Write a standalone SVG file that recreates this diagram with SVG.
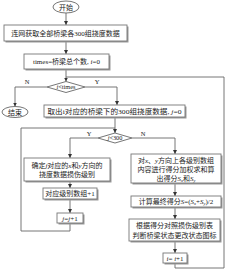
<svg xmlns="http://www.w3.org/2000/svg" width="226" height="270" viewBox="0 0 226 270">
<defs>
<marker id="ah" viewBox="0 0 6 6" refX="6" refY="3" markerWidth="4" markerHeight="4" orient="auto" markerUnits="userSpaceOnUse">
<path d="M0,0 L6,3 L0,6 z" fill="#333"/>
</marker>
<style>
.box{fill:#fff;stroke:#777;stroke-width:0.9}
.sh{fill:#9a9a9a}
.ln{fill:none;stroke:#666;stroke-width:0.9}
.ar{fill:none;stroke:#666;stroke-width:0.9;marker-end:url(#ah)}
text{font-family:"Liberation Serif","Noto Sans CJK SC",serif;font-size:7px;fill:#222;text-anchor:middle}
.it{font-style:italic}
.lb{font-size:6.5px}
</style>
</defs>
<rect width="226" height="270" fill="#fff"/>
<g id="connectors">
<path class="ar" d="M66,13 V25"/>
<path class="ar" d="M66,41 V54"/>
<path class="ar" d="M66,70 V81.5"/>
<path class="ar" d="M47,87 H15 V106.5"/>
<path class="ar" d="M85,87 H117 V105"/>
<path class="ar" d="M115,118 V133"/>
<path class="ar" d="M98,138 H70 V158"/>
<path class="ar" d="M132,138 H175 V154"/>
<path class="ar" d="M70,182 V188"/>
<path class="ar" d="M70,200 V213"/>
<path class="ln" d="M70,224 V231 H21 V128 H115"/>
<path class="ar" d="M175,184 V196"/>
<path class="ar" d="M175,208 V219"/>
<path class="ar" d="M175,242 V253"/>
<path class="ln" d="M175,263 V268 H224 V77 H66"/>
<text class="lb" x="27" y="84">N</text>
<text class="lb" x="97" y="84">Y</text>
<text class="lb" x="89" y="136">Y</text>
<text class="lb" x="143" y="136">N</text>
</g>
<g id="start">
<ellipse cx="66" cy="7" rx="13" ry="6" fill="#fff" stroke="#666" stroke-width="0.9"/>
<text x="66" y="9.5">开始</text>
</g>
<g id="fetch">
<rect class="sh" x="5.5" y="26.5" width="123" height="16"/>
<rect class="box" x="4" y="25" width="123" height="16"/>
<text x="65.5" y="35.8">连网获取全部桥梁各300组挠度数据</text>
</g>
<g id="init">
<rect class="sh" x="25.5" y="55.5" width="85" height="15"/>
<rect class="box" x="24" y="54" width="85" height="15"/>
<text x="66.5" y="64">times=桥梁总个数, <tspan class="it">i</tspan>=0</text>
</g>
<g id="cond-i">
<polygon points="47,87 66,81.5 85,87 66,92.5" fill="#fff" stroke="#666" stroke-width="0.9"/>
<text x="66" y="89.3" style="font-size:6.3px"><tspan class="it">i</tspan>&lt;times</text>
</g>
<g id="end">
<ellipse cx="15" cy="112" rx="13" ry="5.5" fill="#fff" stroke="#666" stroke-width="0.9"/>
<text x="15" y="114.5">结束</text>
</g>
<g id="take">
<rect class="sh" x="45.5" y="106.5" width="141" height="12"/>
<rect class="box" x="44" y="105" width="141" height="12"/>
<text x="114.5" y="113.8" textLength="134" lengthAdjust="spacingAndGlyphs">取出i对应的桥梁下的300组挠度数据, <tspan class="it">j</tspan>=0</text>
</g>
<g id="cond-j">
<polygon points="98,138 115,133 132,138 115,143" fill="#fff" stroke="#666" stroke-width="0.9"/>
<text x="115" y="140.3" style="font-size:6.3px"><tspan class="it">j</tspan>&lt;300</text>
</g>
<g id="level">
<rect class="sh" x="25.5" y="159.5" width="86" height="23"/>
<rect class="box" x="24" y="158" width="86" height="23"/>
<text x="67" y="167.5">确定<tspan class="it">j</tspan>对应的<tspan class="it">x</tspan>和<tspan class="it">y</tspan>方向的</text>
<text x="67" y="177">挠度数据损伤级别</text>
</g>
<g id="count">
<rect class="sh" x="44.5" y="189.5" width="54" height="11"/>
<rect class="box" x="43" y="188" width="54" height="11"/>
<text x="70" y="196.3">对应级别数组+1</text>
</g>
<g id="jinc">
<rect class="sh" x="58.5" y="214.5" width="26" height="10"/>
<rect class="box" x="57" y="213" width="26" height="10"/>
<text x="70" y="220.5"><tspan class="it">j</tspan>=<tspan class="it">j</tspan>+1</text>
</g>
<g id="score">
<rect class="sh" x="132.5" y="155.5" width="90" height="29"/>
<rect class="box" x="131" y="154" width="90" height="29"/>
<text x="176" y="162.5">对<tspan class="it">x</tspan>、<tspan class="it">y</tspan>方向上各级别数组</text>
<text x="176" y="171.5">内容进行得分加权求和算</text>
<text x="176" y="180.5">出得分<tspan class="it">S</tspan><tspan style="font-size:4.5px" class="it" dy="1">x</tspan><tspan dy="-1">和</tspan><tspan class="it">S</tspan><tspan style="font-size:4.5px" class="it" dy="1">y</tspan></text>
</g>
<g id="final">
<rect class="sh" x="132.5" y="197.5" width="90" height="11"/>
<rect class="box" x="131" y="196" width="90" height="11"/>
<text x="176" y="204.3">计算最终得分<tspan class="it">S</tspan>=(<tspan class="it">S</tspan><tspan style="font-size:4.5px" class="it" dy="1">x</tspan><tspan dy="-1">+</tspan><tspan class="it">S</tspan><tspan style="font-size:4.5px" class="it" dy="1">y</tspan><tspan dy="-1">)/2</tspan></text>
</g>
<g id="update">
<rect class="sh" x="130.5" y="220.5" width="91" height="22"/>
<rect class="box" x="129" y="219" width="91" height="22"/>
<text x="174.5" y="228">根据得分对照损伤级别表</text>
<text x="174.5" y="237.5">判断桥梁状态更改状态图标</text>
</g>
<g id="iinc">
<rect class="sh" x="164.5" y="254.5" width="24" height="10"/>
<rect class="box" x="163" y="253" width="24" height="10"/>
<text x="175" y="260.5"><tspan class="it">i</tspan>= <tspan class="it">i</tspan>+1</text>
</g>
</svg>
